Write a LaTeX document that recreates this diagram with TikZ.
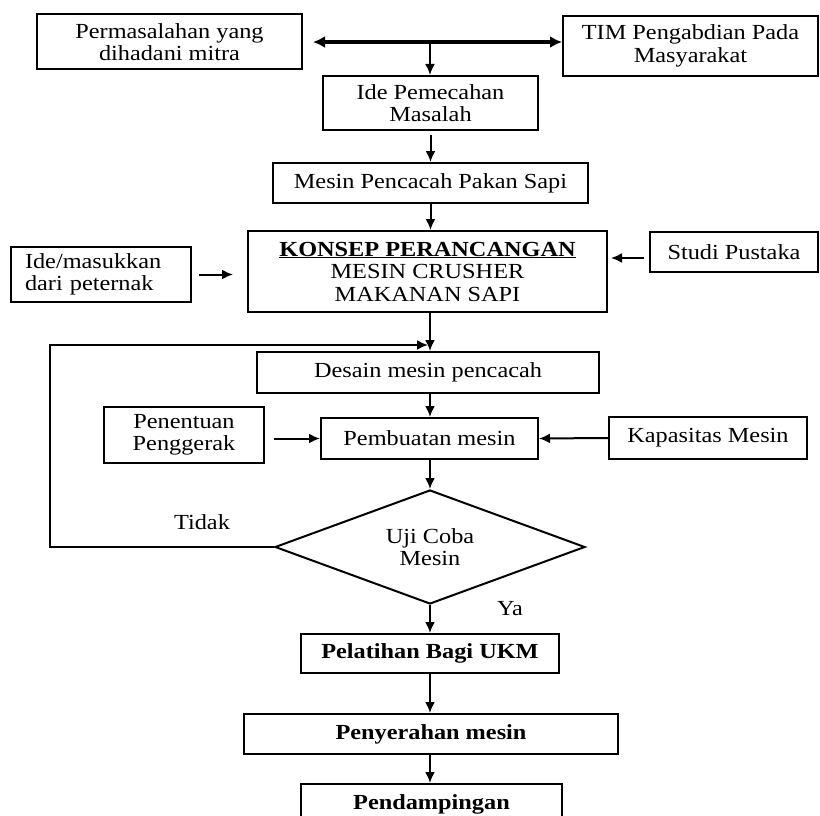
\documentclass[tikz,border=0pt]{standalone}
\usepackage{fontspec}
\setmainfont{Liberation Serif}[FakeStretch=1.13]
\usepackage{tikz}
\usetikzlibrary{shapes.geometric,arrows.meta}
\tikzset{
    kotak/.style={draw, line width=2pt, inner sep=2pt, align=center,
        font=\fontsize{21.5}{22.5}\selectfont},
    uji/.style={draw, line width=2pt, diamond, aspect=2.72, inner sep=0pt,
        align=center, font=\fontsize{21.5}{22.5}\selectfont},
    panah/.style={-{Latex[length=11pt,width=10pt]}, line width=2pt},
    label/.style={font=\fontsize{21.5}{22.5}\selectfont}
}

\begin{document}
\begin{tikzpicture}[x=1pt, y=-1pt]
            \useasboundingbox (0,0) rectangle (820,816);
            % baris atas
            \node[kotak, minimum width=265pt, minimum height=55pt] (masalah) at (169.5,42)
                {Permasalahan yang\\dihadani mitra};
            \node[kotak, minimum width=255pt, minimum height=60pt] (tim) at (690.5,46)
                {TIM Pengabdian Pada\\Masyarakat};
            \coordinate (cabang) at (430,42);
            \draw[{Latex[length=12pt,width=12pt]}-{Latex[length=12pt,width=12pt]}, line width=3.6pt]
                ([xshift=10pt]masalah.east) -- (tim.west |- cabang);
            % alur utama
            \node[kotak, minimum width=215pt, minimum height=54pt] (ide) at (430.5,103)
                {Ide Pemecahan\\Masalah};
            \node[kotak, minimum width=315pt, minimum height=40pt] (mesin) at (430.5,183)
                {Mesin Pencacah Pakan Sapi};
            \node[kotak, minimum width=359pt, minimum height=81pt] (konsep) at (427.5,271.5)
                {\underline{\textbf{KONSEP PERANCANGAN}}\\MESIN CRUSHER\\MAKANAN SAPI};
            \node[kotak, align=left, inner xsep=14pt, text width=152pt, minimum height=55pt] (masukan) at (101,274.5)
                {Ide/masukkan\\dari peternak};
            \node[kotak, minimum width=168pt, minimum height=40pt] (studi) at (734,252)
                {Studi Pustaka};
            \node[kotak, minimum width=342pt, minimum height=41pt] (desain) at (428,372.5)
                {Desain mesin pencacah};
            \node[kotak, minimum width=160pt, minimum height=56pt] (penggerak) at (184,435)
                {Penentuan\\Penggerak};
            \node[kotak, minimum width=217pt, minimum height=41pt] (pembuatan) at (429.5,438.5)
                {Pembuatan mesin};
            \node[kotak, minimum width=198pt, minimum height=42pt] (kapasitas) at (708,438)
                {Kapasitas Mesin};
            \node[uji, minimum width=310pt, minimum height=114pt] (ujicoba) at (430,547)
                {Uji Coba\\Mesin};
            \node[kotak, minimum width=258pt, minimum height=39pt, font=\fontsize{21.5}{22.5}\selectfont\bfseries]
                (pelatihan) at (430,653.5) {Pelatihan Bagi UKM};
            \node[kotak, minimum width=374pt, minimum height=40pt, font=\fontsize{21.5}{22.5}\selectfont\bfseries]
                (penyerahan) at (431,734) {Penyerahan mesin};
            \node[kotak, minimum width=261pt, minimum height=40pt, font=\fontsize{21.5}{22.5}\selectfont\bfseries]
                (pendampingan) at (431.5,804) {Pendampingan};
            % panah
            \draw[panah] (cabang) -- (ide.north -| cabang);
            \draw[panah] ([yshift=-4pt]ide.south) -- (mesin.north);
            \draw[panah] (mesin.south) -- (konsep.north -| mesin.south);
            \draw[panah, shorten <=7pt, shorten >=14pt] (masukan.east) -- (konsep.west |- masukan.east);
            \draw[panah, shorten <=5pt, shorten >=3pt] (studi.west |- 0,258) -- (konsep.east |- 0,258);
            \draw[panah] (konsep.south -| cabang) -- (desain.north -| cabang);
            \coordinate (balik) at (428,345);
            \draw[panah] (ujicoba.west) -- (50,547) -- (50,345) -- (balik);
            \node[label] (tidak) at (202,522) {Tidak};
            \draw[panah] (desain.south -| cabang) -- (pembuatan.north -| cabang);
            \draw[panah, shorten <=9pt] (penggerak.east |- pembuatan.west) -- (pembuatan.west);
            \draw[panah] (kapasitas.west) -- (pembuatan.east);
            \draw[panah] (pembuatan.south -| cabang) -- (ujicoba.north);
            \draw[panah] (ujicoba.south) -- (pelatihan.north -| ujicoba.south);
            \node[label] (ya) at (510,609) {Ya};
            \draw[panah] (pelatihan.south -| cabang) -- (penyerahan.north -| cabang);
            \draw[panah] (penyerahan.south -| cabang) -- (pendampingan.north -| cabang);
\end{tikzpicture}
\end{document}
